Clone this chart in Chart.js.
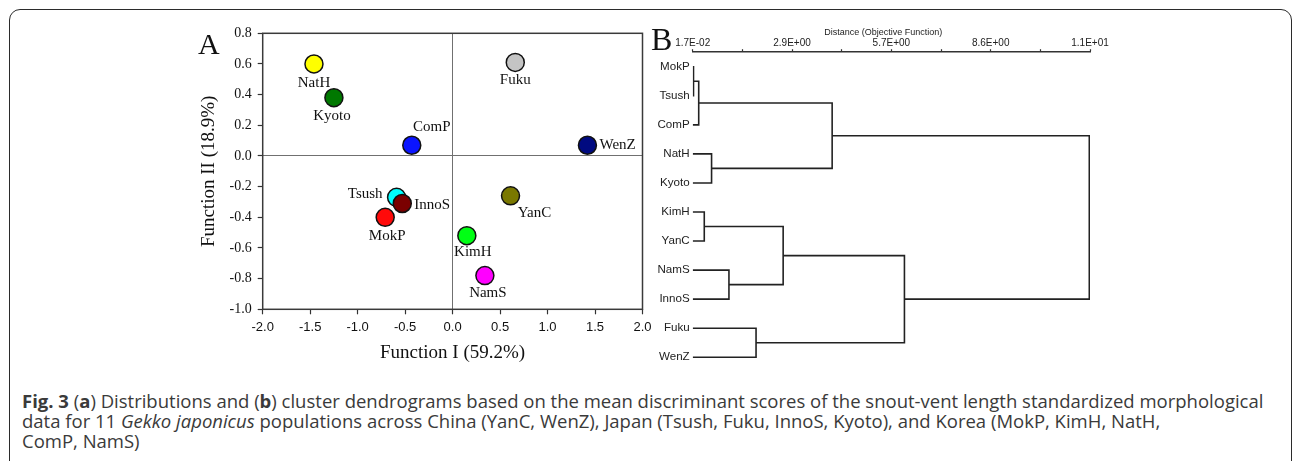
<!DOCTYPE html>
<html><head><meta charset="utf-8">
<script src="https://cdn.jsdelivr.net/npm/chart.js@4.4.1/dist/chart.umd.min.js"></script>
<style>
body{margin:0;width:1292px;height:461px;overflow:hidden;background:#fff;position:relative;}
#frame{position:absolute;left:9px;top:9px;width:1283px;height:470px;box-sizing:border-box;border:1.5px solid #2b2b2b;border-radius:11px;}
#cA{position:absolute;left:170px;top:0;}
#cB{position:absolute;left:640px;top:0;}
.panel{position:absolute;font-family:'Liberation Serif',serif;color:#111;line-height:1;}
#caption{position:absolute;left:22px;top:391px;font-family:'Open Sans',sans-serif;font-size:18.5px;line-height:20px;color:#3a3a3a;white-space:nowrap;}
</style></head>
<body>
<div id="frame"></div>
<canvas id="cA" width="483" height="385"></canvas>
<canvas id="cB" width="470" height="385"></canvas>
<div class="panel" style="left:198px;top:28.5px;font-size:30px;">A</div>
<div class="panel" style="left:651px;top:22.5px;font-size:32px;">B</div>
<div id="caption"><b>Fig. 3</b> (<b>a</b>) Distributions and (<b>b</b>) cluster dendrograms based on the mean discriminant scores of the snout-vent length standardized morphological<br>data for 11 <i>Gekko japonicus</i> populations across China (YanC, WenZ), Japan (Tsush, Fuku, InnoS, Kyoto), and Korea (MokP, KimH, NatH,<br>ComP, NamS)</div>
<script>
// ---------- Panel A data ----------
const populations = ['NatH','Kyoto','ComP','Fuku','WenZ','Tsush','InnoS','MokP','YanC','KimH','NamS'];
const functionI   = [-1.46, -1.25, -0.43, 0.66, 1.42, -0.59, -0.53, -0.71, 0.61, 0.15, 0.34];
const functionII  = [ 0.60,  0.38,  0.07, 0.61, 0.07, -0.27, -0.31, -0.40, -0.26, -0.52, -0.78];
const xTickLabels = ['-2.0','-1.5','-1.0','-0.5','0.0','0.5','1.0','1.5','2.0'];
const yTickLabels = ['-1.0','-0.8','-0.6','-0.4','-0.2','0.0','0.2','0.4','0.6','0.8'];

// ---------- Panel B data ----------
const leaves = ['MokP','Tsush','ComP','NatH','Kyoto','KimH','YanC','NamS','InnoS','Fuku','WenZ'];
const mergeA      = ['MokP','c0','NatH','c1','KimH','NamS','c4','Fuku','c6','c3'];
const mergeB      = ['Tsush','ComP','Kyoto','c2','YanC','InnoS','c5','WenZ','c7','c8'];
const mergeHeight = [0.04, 0.19, 0.56, 4.03, 0.35, 1.06, 2.62, 1.84, 6.11, 11.43];
const distTickLabels = ['1.7E-02','','2.9E+00','','5.7E+00','','8.6E+00','','1.1E+01'];
const distMin = 0.017, distMax = 11.45;

// ---------- styles ----------
const pointColors = {NatH:'#ffff00',Kyoto:'#007800',ComP:'#0a14ff',Fuku:'#c4c4c4',WenZ:'#000a80',
  Tsush:'#00ffff',InnoS:'#7a0000',MokP:'#ff0a0a',YanC:'#7a7800',KimH:'#00ff14',NamS:'#ff00ff'};
const labelOffset = { // dx, dy, align
  NatH:[0,19,'center'],Kyoto:[-2,18,'center'],ComP:[20,-18,'center'],Fuku:[0,18,'center'],
  WenZ:[12,0,'left'],Tsush:[-14,-3,'right'],InnoS:[12,2,'left'],MokP:[2,19,'center'],
  YanC:[24,17,'center'],KimH:[6,16,'center'],NamS:[3,17.5,'center']};

const noPad = s => { s.paddingLeft = 0; s.paddingRight = 0; s.paddingTop = 0; s.paddingBottom = 0; };

const framePlugin = {id:'frame', beforeDatasetsDraw(chart){
  const a = chart.chartArea, c = chart.ctx;
  c.save(); c.strokeStyle='#3a3a3a'; c.lineWidth=1.5;
  c.strokeRect(a.left, a.top, a.right-a.left, a.bottom-a.top); c.restore();
}};
const labelPlugin = {id:'ptlabels', afterDatasetsDraw(chart){
  const c = chart.ctx, meta = chart.getDatasetMeta(0);
  c.save(); c.font = '15px "Liberation Serif"'; c.fillStyle='#111'; c.textBaseline='middle';
  populations.forEach((p,i)=>{
    const el = meta.data[i], o = labelOffset[p];
    c.textAlign = o[2]; c.fillText(p, el.x+o[0], el.y+o[1]);
  });
  c.restore();
}};

new Chart(document.getElementById('cA'), {
  type:'scatter',
  data:{datasets:[{
    data: populations.map((p,i)=>({x:functionI[i], y:functionII[i]})),
    pointRadius:9, pointHoverRadius:9,
    pointBackgroundColor: populations.map(p=>pointColors[p]),
    pointBorderColor:'#111', pointBorderWidth:1.5
  }]},
  options:{
    responsive:false, animation:false, devicePixelRatio:1, events:[],
    layout:{padding:{top:33.3,right:4.7,left:0,bottom:0}},
    plugins:{legend:{display:false}, tooltip:{enabled:false}},
    scales:{
      x:{type:'linear', min:-2, max:2,
        afterBuildTicks:s=>{s.ticks = xTickLabels.map(v=>({value:parseFloat(v)}));},
        afterFit:s=>{s.height = 75.7; noPad(s);},
        ticks:{callback:(v,i)=>xTickLabels[i], font:{family:'Liberation Sans',size:13}, color:'#111', padding:5, maxRotation:0, autoSkip:false},
        grid:{color:c=>(c.tick && c.tick.value===0)?'#707070':'rgba(0,0,0,0)', lineWidth:1, tickColor:'#333', tickLength:5, tickWidth:1.2},
        border:{display:false},
        title:{display:true, text:'Function I (59.2%)', font:{family:'Liberation Serif',size:19}, color:'#111', padding:{top:0,bottom:20.2}}
      },
      y:{type:'linear', min:-1, max:0.8,
        afterBuildTicks:s=>{s.ticks = yTickLabels.map(v=>({value:parseFloat(v)}));},
        afterFit:s=>{s.width = 92.7; noPad(s);},
        ticks:{callback:(v,i)=>yTickLabels[i], font:{family:'Liberation Serif',size:14}, color:'#111', padding:6, autoSkip:false},
        grid:{color:c=>(c.tick && Math.abs(c.tick.value)<1e-9)?'#707070':'rgba(0,0,0,0)', lineWidth:1, tickColor:'#333', tickLength:5, tickWidth:1.2},
        border:{display:false},
        title:{display:true, text:'Function II (18.9%)', font:{family:'Liberation Serif',size:19}, color:'#111', padding:{top:27.2,bottom:0}}
      }
    }
  },
  plugins:[framePlugin, labelPlugin]
});

// ---------- dendrogram segments built from merge table ----------
const nodes = {};
leaves.forEach((l,i)=>{ nodes[l] = {x:distMin, y:i}; });
const segments = mergeA.map((a,k)=>{
  const A = nodes[a], B = nodes[mergeB[k]], h = mergeHeight[k];
  nodes['c'+k] = {x:h, y:(A.y+B.y)/2};
  return [{x:A.x,y:A.y},{x:h,y:A.y},{x:h,y:B.y},{x:B.x,y:B.y}];
});

const distTitlePlugin = {id:'distTitle', afterDraw(chart){
  const c = chart.ctx; c.save();
  c.font = '9px "Liberation Sans"'; c.fillStyle = '#222'; c.textAlign='center'; c.textBaseline='middle';
  c.fillText('Distance (Objective Function)', 243.3, 32.7); c.restore();
}};

new Chart(document.getElementById('cB'), {
  type:'scatter',
  data:{datasets: segments.map(s=>({data:s, showLine:true, pointRadius:0, borderColor:'#222', borderWidth:1.6,
    borderJoinStyle:'miter', borderCapStyle:'butt', fill:false, tension:0}))},
  options:{
    responsive:false, animation:false, devicePixelRatio:1, events:[],
    layout:{padding:{top:0,right:20,left:0,bottom:13.2}},
    plugins:{legend:{display:false}, tooltip:{enabled:false}},
    scales:{
      x:{type:'linear', position:'top', min:distMin, max:distMax,
        afterBuildTicks:s=>{s.ticks = distTickLabels.map((_,i)=>({value: distMin + i*(distMax-distMin)/(distTickLabels.length-1)}));},
        afterFit:s=>{s.height = 52.2; noPad(s);},
        ticks:{callback:(v,i)=>distTickLabels[i], font:{family:'Liberation Sans',size:10}, color:'#222', padding:0, maxRotation:0, autoSkip:false},
        grid:{drawOnChartArea:false, tickLength:3, tickColor:'#333', tickWidth:1.2},
        border:{display:true, color:'#333', width:1.5}
      },
      y:{type:'linear', reverse:true, min:-0.5, max:10.5,
        afterBuildTicks:s=>{s.ticks = leaves.map((_,i)=>({value:i}));},
        afterFit:s=>{s.width = 52.7; noPad(s);},
        ticks:{callback:(v,i)=>leaves[i], font:{family:'Liberation Sans',size:11.6}, color:'#222', padding:3, autoSkip:false},
        grid:{display:false, drawTicks:false}, border:{display:false}
      }
    }
  },
  plugins:[distTitlePlugin]
});
</script>
</body></html>
